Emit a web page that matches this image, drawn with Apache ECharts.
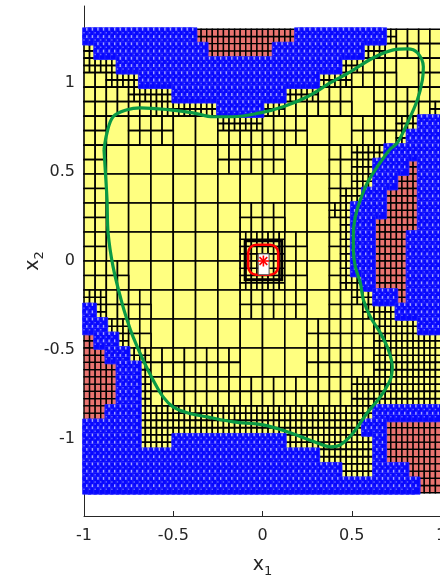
<!DOCTYPE html>
<html><head><meta charset="utf-8">
<script src="https://cdn.jsdelivr.net/npm/echarts@6/dist/echarts.min.js"></script>
<style>html,body{margin:0;padding:0;background:#fff}#c{width:440px;height:580px}</style>
</head><body><div id="c"></div>
<script>
// ---------------- data ----------------
const xDomain = [-1, 1];          // box covering, x range
const yDomain = [-1.3, 1.3];      // box covering, y range
const xTicks = [-1, -0.5, 0, 0.5, 1];
const yTicks = [-1, -0.5, 0, 0.5, 1];
// 32 x 32 cell map (top row first). A = part of a coarse box (2x2 block),
// Y = medium yellow box, y = finely subdivided yellow, B = blue, R = red
const cellMap = [
  "BBBBBBBBBBRRRRRRRRRBBBBBBBByYYYY",
  "yBBBBBBBBBBRRRRRRBBBBBBBByyYYYYY",
  "yyyBBBBBBBBBBBBBBBBBBBByyYYYAAYY",
  "YYyyyBBBBBBBBBBBBBBBByyyYYYYAAYY",
  "YYYYyyyyBBBBBBBBBByyyYYYAAYYYYYY",
  "YYYYYYyyyyyyBBBByyYYYYYYAAYYYYYy",
  "YYAAYYYYAAAAyyyyYYYYAAAAYYYYyyBB",
  "YYAAYYYYAAAAYYYYYYYYAAAAYYYYyBBB",
  "YYAAAAAAAAAAYYYYYYAAAAYYyyyBBBBB",
  "YYAAAAAAAAAAYYYYYYAAAAYYyyBBBRBB",
  "YYAAAAAAAAAAAAAAAAAAAAYYyyBBRRBB",
  "YYAAAAAAAAAAAAAAAAAAAAYyyBBRRRBB",
  "YYAAAAAAAAAAAAYYYYAAAAyyBBBRRRBB",
  "YYAAAAAAAAAAAAYYYYAAAAYyBBRRRRBB",
  "YYAAAAAAAAAAAAyyyyYYAAYyBBRRRBBB",
  "YYAAAAAAAAAAAAyyyyYYAAYyBBRRRBBB",
  "YYYYAAAAAAAAAAyyyyYYAAYyBBRRRBBB",
  "YYYYAAAAAAAAAAyyyyYYAAYyyBRRRBBB",
  "yyYYYYAAAAAAAAYYYYYYAAYYyyBBRBBB",
  "ByYYYYAAAAAAAAYYYYYYAAYYYyyyBBBB",
  "BByyYYAAAAAAAAAAAAAAYYYYYYyyyyBB",
  "RBByYYAAAAAAAAAAAAAAYYYYYYyyyyyy",
  "RRBByyYYYYYYYYAAAAAAYYYYYYyyyyyy",
  "RRRBByYYYYYYYYAAAAAAYYYYYYyyyyyy",
  "RRRBByYYYYYYYYYYYYYYYYYYyyyyyyyy",
  "RRRBByYYYYYYYYYYYYYYYYYYyyyyyyyy",
  "RRBBByyyyyyyyyyyyyyyyyyyyyBBBBBB",
  "BBBBByyyyyyyyyyyyyyyyyyyyBBRRRRR",
  "BBBBByyyBBBBBBBBBByyyyyyyyBRRRRR",
  "BBBBBBBBBBBBBBBBBBBBByyyyyBRRRRR",
  "BBBBBBBBBBBBBBBBBBBBBBByyyBBBRRR",
  "BBBBBBBBBBBBBBBBBBBBBBBBBBBBBBRR"
];
// green closed curve
const curveX = [-0.888,-0.871,-0.837,-0.759,-0.686,-0.518,-0.389,-0.277,-0.164,-0.013,0.116,0.251,0.381,0.492,0.621,0.733,0.812,0.868,0.901,0.896,0.868,0.812,0.755,0.711,0.643,0.587,0.548,0.520,0.509,0.509,0.520,0.548,0.565,0.604,0.660,0.705,0.727,0.716,0.660,0.587,0.509,0.436,0.380,0.307,0.155,0.004,-0.164,-0.310,-0.422,-0.501,-0.557,-0.613,-0.669,-0.725,-0.759,-0.792,-0.837,-0.865,-0.871,-0.882];
const curveY = [0.624,0.719,0.809,0.848,0.859,0.848,0.831,0.809,0.809,0.831,0.865,0.921,1.000,1.061,1.140,1.184,1.190,1.168,1.089,1.016,0.904,0.774,0.662,0.623,0.528,0.438,0.343,0.248,0.158,0.062,-0.032,-0.122,-0.217,-0.313,-0.403,-0.498,-0.593,-0.666,-0.762,-0.851,-0.963,-1.031,-1.042,-1.020,-0.963,-0.919,-0.902,-0.874,-0.851,-0.818,-0.762,-0.667,-0.555,-0.426,-0.330,-0.218,-0.033,0.158,0.343,0.528];
const centerBox = [-0.097, -0.105, 0.108, 0.113];   // x0,y0,x1,y1
const redLoop   = [-0.080, -0.077, 0.088, 0.091];
const whiteCell = [-0.024, -0.077, 0.037, 0.040];
const targetPoint = [0.005, 0.0];

// ---------------- build cell tables ----------------
const nRows = cellMap.length, nCols = cellMap[0].length;
const dx = (xDomain[1] - xDomain[0]) / nCols;
const dy = (yDomain[1] - yDomain[0]) / nRows;
const yellowCells = [], redCells = [], blueCells = [];
function isA(r, c) { return r < nRows && c < nCols && cellMap[r][c] === 'A'; }
for (let r = 0; r < nRows; r++) {
  for (let c = 0; c < nCols; c++) {
    const k = cellMap[r][c];
    const x0 = xDomain[0] + c * dx, x1 = x0 + dx;
    const y1 = yDomain[1] - r * dy, y0 = y1 - dy;
    if (k === 'A') {
      const br = r - r % 2, bc = c - c % 2;
      const full = isA(br, bc) && isA(br, bc + 1) && isA(br + 1, bc) && isA(br + 1, bc + 1);
      if (full) {
        if (r === br && c === bc) yellowCells.push([x0, yDomain[1] - (br + 2) * dy, x0 + 2 * dx, y1]);
      } else yellowCells.push([x0, y0, x1, y1]);
    } else if (k === 'Y') {
      yellowCells.push([x0, y0, x1, y1]);
    } else {
      const target = k === 'y' ? yellowCells : (k === 'R' ? redCells : blueCells);
      for (let i = 0; i < 2; i++) for (let j = 0; j < 2; j++) {
        target.push([x0 + i * dx / 2, y0 + j * dy / 2, x0 + (i + 1) * dx / 2, y0 + (j + 1) * dy / 2]);
      }
    }
  }
}
const curveData = curveX.map((x, i) => [x, curveY[i]]);
curveData.push([curveX[0], curveY[0]]);

function rectRenderer(style, grow) {
  return function (params, api) {
    const p0 = api.coord([api.value(0), api.value(3)]);
    const p1 = api.coord([api.value(2), api.value(1)]);
    const g = grow || 0;
    return { type: 'rect', shape: { x: p0[0] - g, y: p0[1] - g, width: p1[0] - p0[0] + 2 * g, height: p1[1] - p0[1] + 2 * g, r: style.r || 0 }, style: style };
  };
}
// light specks between the blue markers
function blueSpeckRenderer(params, api) {
  const p0 = api.coord([api.value(0), api.value(3)]);
  const p1 = api.coord([api.value(2), api.value(1)]);
  const w = p1[0] - p0[0], h = p1[1] - p0[1];
  return { type: 'group', children: [
    { type: 'rect', shape: { x: p0[0] + w / 2 - 0.7, y: p0[1] - 1.3, width: 1.4, height: 2.8 },
      style: { fill: '#a8a8ff' } },
    { type: 'rect', shape: { x: p0[0] - 0.7, y: p0[1] + h / 2 - 0.7, width: 1.4, height: 1.4 },
      style: { fill: '#6a6aff' } }
  ] };
}
const axisColor = '#262626';
const font = 'DejaVu Sans';
const chart = echarts.init(document.getElementById('c'), null, { renderer: 'canvas' });
chart.setOption({
  animation: false,
  backgroundColor: '#fff',
  grid: { left: 84, top: 6, width: 357, height: 510, containLabel: false, outerBoundsMode: 'none' },
  xAxis: {
    type: 'value', min: xDomain[0], max: 1, interval: 0.5,
    axisLine: { show: true, onZero: false, lineStyle: { color: axisColor, width: 1 } },
    axisTick: { show: true, inside: true, length: 5, lineStyle: { color: axisColor } },
    axisLabel: { color: axisColor, fontSize: 16, fontFamily: font, margin: 12, formatter: v => String(v) },
    splitLine: { show: false },
    name: '{a|x}{b|1}', nameLocation: 'middle', nameGap: 36,
    nameTextStyle: { rich: {
      a: { fontSize: 19, fontFamily: font, color: axisColor, lineHeight: 26 },
      b: { fontSize: 13, fontFamily: font, color: axisColor, verticalAlign: 'bottom', lineHeight: 13 } } }
  },
  yAxis: {
    type: 'value', min: -1.43, max: 1.43,
    axisLine: { show: true, onZero: false, lineStyle: { color: axisColor, width: 1 } },
    axisTick: { show: true, inside: true, length: 5, customValues: yTicks, lineStyle: { color: axisColor } },
    axisLabel: { color: axisColor, fontSize: 16, fontFamily: font, margin: 9, customValues: yTicks, formatter: v => String(v) },
    splitLine: { show: false },
    name: '{a|x}{b|2}', nameLocation: 'middle', nameGap: 38, nameRotate: 90, nameMoveOverlap: false,
    nameTextStyle: { rich: {
      a: { fontSize: 19, fontFamily: font, color: axisColor, lineHeight: 26 },
      b: { fontSize: 13, fontFamily: font, color: axisColor, verticalAlign: 'bottom', lineHeight: 13 } } }
  },
  series: [
    { type: 'custom', name: 'yellow', silent: true, z: 1, data: yellowCells, encode: { x: [0, 2], y: [1, 3] },
      renderItem: rectRenderer({ fill: '#ffff80', stroke: '#000', lineWidth: 1.6 }) },
    { type: 'custom', name: 'red', silent: true, z: 2, data: redCells, encode: { x: [0, 2], y: [1, 3] },
      renderItem: rectRenderer({ fill: '#e97470', stroke: '#000', lineWidth: 1.4 }) },
    { type: 'custom', name: 'blue', silent: true, z: 3, data: blueCells, encode: { x: [0, 2], y: [1, 3] },
      renderItem: rectRenderer({ fill: '#0808ff', stroke: '#2626ff', lineWidth: 0.8 }, 1.4) },
    { type: 'custom', name: 'blueSpecks', silent: true, z: 4, data: blueCells, encode: { x: [0, 2], y: [1, 3] },
      renderItem: blueSpeckRenderer },
    { type: 'line', name: 'curve', silent: true, z: 5, data: curveData, smooth: 0.35, symbol: 'none',
      lineStyle: { color: '#0a9a45', width: 3.2 } },
    { type: 'custom', name: 'box', silent: true, z: 6, data: [centerBox], encode: { x: [0, 2], y: [1, 3] },
      renderItem: rectRenderer({ fill: 'none', stroke: '#000', lineWidth: 3 }) },
    { type: 'custom', name: 'loop', silent: true, z: 7, data: [redLoop], encode: { x: [0, 2], y: [1, 3] },
      renderItem: rectRenderer({ fill: 'none', stroke: '#ff0000', lineWidth: 2.6, r: 8 }) },
    { type: 'custom', name: 'white', silent: true, z: 8, data: [whiteCell], encode: { x: [0, 2], y: [1, 3] },
      renderItem: rectRenderer({ fill: '#ffffff', stroke: '#555', lineWidth: 1 }) },
    { type: 'custom', name: 'star', silent: true, z: 9, data: [targetPoint],
      renderItem: function (params, api) {
        const p = api.coord([api.value(0), api.value(1)]);
        const r = 5.5, q = r * 0.7071;
        const segs = [[-r, 0, r, 0], [0, -r, 0, r], [-q, -q, q, q], [-q, q, q, -q]];
        return { type: 'group', children: segs.map(s => ({ type: 'line',
          shape: { x1: p[0] + s[0], y1: p[1] + s[1], x2: p[0] + s[2], y2: p[1] + s[3] },
          style: { stroke: '#ff0000', lineWidth: 1.6 } })) };
      } }
  ]
});
</script>
</body></html>
